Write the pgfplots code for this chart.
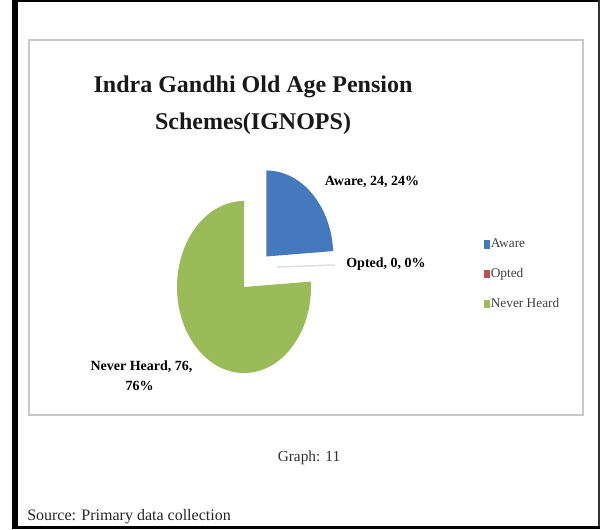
\documentclass[border=0pt]{standalone}
\usepackage{pgfplots}
\usepackage{pgfplotstable}
\pgfplotsset{compat=1.18}
\usepackage{fontspec}
\setmainfont{Liberation Serif}
\definecolor{pieblue}{HTML}{4579BE}
\definecolor{piered}{HTML}{C0504D}
\definecolor{piegreen}{HTML}{9BBB59}
\definecolor{boxgray}{HTML}{C8C8C8}

\pgfplotstableread{
label value
Aware 24
Opted 0
NeverHeard 76
}\piedata

\begin{document}
\begin{tikzpicture}
\pgfplotstablegetelem{0}{value}\of\piedata \let\vA\pgfplotsretval
\pgfplotstablegetelem{1}{value}\of\piedata \let\vB\pgfplotsretval
\pgfplotstablegetelem{2}{value}\of\piedata \let\vC\pgfplotsretval
\pgfmathsetmacro\tot{\vA+\vB+\vC}
\pgfmathsetmacro\unit{360/\tot}
\pgfmathsetmacro\aS{90}
\pgfmathsetmacro\aE{90-\unit*\vA}
\pgfmathsetmacro\bE{\aE-\unit*\vB}
\pgfmathsetmacro\cE{\bE-\unit*\vC}
\pgfmathsetmacro\aMid{(\aS+\aE)/2}
\begin{axis}[
  x=0.75pt, y=0.75pt,
  xmin=0, xmax=600, ymin=0, ymax=529,
  hide axis, scale only axis, clip=false,
  legend style={at={(axis cs:484,292)}, anchor=north west, draw=none, fill=none,
    font=\fontsize{10}{11}\selectfont, text=black!75, row sep=12pt, inner sep=0pt,
    nodes={inner sep=1pt}},
  legend cell align=left,
]
% full canvas
\fill[white] (axis cs:0,0) rectangle (axis cs:600,529);
% frame
\fill[black] (axis cs:12,0) rectangle (axis cs:18,529);
\fill[black] (axis cs:12,526.5) rectangle (axis cs:600,529);
\fill[black!80] (axis cs:597.5,0) rectangle (axis cs:600,529);
\fill[black] (axis cs:12,0) rectangle (axis cs:600,3.5);
\draw[boxgray, line width=1.3pt] (axis cs:29,489) rectangle (axis cs:583,114);

% pie slices (ellipse radii 50.25pt x 64.5pt)
\fill[piegreen] (axis cs:244,242) -- ++(\bE:50.25pt and 64.5pt)
  arc[start angle=\bE, end angle=\cE, x radius=50.25pt, y radius=64.5pt] -- cycle;
\fill[pieblue] (axis cs:244,242) ++(\aMid:24.47pt and 31.41pt) -- ++(\aS:50.25pt and 64.5pt)
  arc[start angle=\aS, end angle=\aE, x radius=50.25pt, y radius=64.5pt] -- cycle;
\draw[black!12, line width=1.2pt] (axis cs:277,262) -- (axis cs:335,264);

% legend
\addlegendimage{legend image code/.code={\fill[pieblue] (0pt,-3pt) rectangle (3.5pt,2.5pt);}}
\addlegendentry{Aware}
\addlegendimage{legend image code/.code={\fill[piered] (0pt,-3pt) rectangle (3.5pt,2.5pt);}}
\addlegendentry{Opted}
\addlegendimage{legend image code/.code={\fill[piegreen] (0pt,-3pt) rectangle (3.5pt,2.5pt);}}
\addlegendentry{Never Heard}

% title
\node[anchor=base, font=\bfseries\fontsize{18}{20}\selectfont, text=black!90] at (axis cs:253,436) {Indra Gandhi Old Age Pension};
\node[anchor=base, font=\bfseries\fontsize{18}{20}\selectfont, text=black!90] at (axis cs:253,399) {Schemes(IGNOPS)};

% data labels
\node[anchor=base, font=\bfseries\fontsize{10.5}{12}\selectfont] at (axis cs:372,343.5) {Aware, 24, 24\%};
\node[anchor=base, font=\bfseries\fontsize{10.5}{12}\selectfont] at (axis cs:386,261) {Opted, 0, 0\%};
\node[anchor=base, font=\bfseries\fontsize{10.5}{12}\selectfont] at (axis cs:141.5,158) {Never Heard, 76,};
\node[anchor=base, font=\bfseries\fontsize{10.5}{12}\selectfont] at (axis cs:139.5,139) {76\%};

% captions
\node[anchor=base, font=\fontsize{11.5}{13}\selectfont, text=black!80] at (axis cs:309,68) {Graph: 11};
\node[anchor=base west, inner sep=0pt, font=\fontsize{12}{14}\selectfont, text=black!85] at (axis cs:27,9) {Source: Primary data collection};
\end{axis}
\end{tikzpicture}
\end{document}
